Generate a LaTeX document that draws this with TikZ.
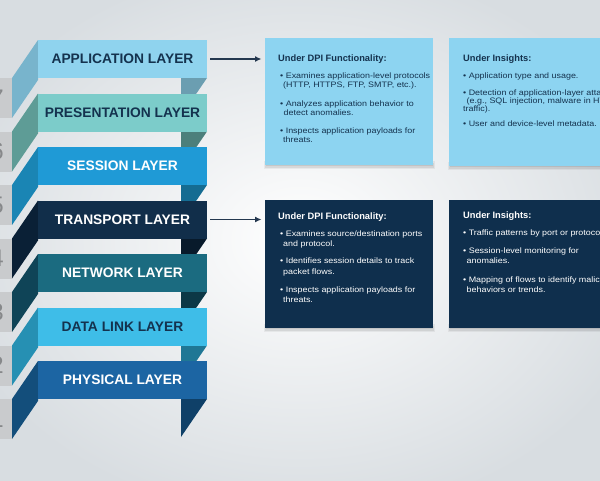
\documentclass[tikz,border=0pt]{standalone}
\usepackage{fontspec}
\setmainfont{Liberation Sans}
\newfontfamily\bodyfont[FakeStretch=1.13]{Liberation Sans}
\usetikzlibrary{arrows.meta,calc}

% palette
\definecolor{bgout}{HTML}{D8DDE1}
\definecolor{navy}{HTML}{14324E}
\definecolor{tabgrey}{HTML}{C9CBCD}
\definecolor{digitgrey}{HTML}{86888A}
\definecolor{boxL}{HTML}{8DD4F1}
\definecolor{boxD}{HTML}{0F2F4D}
\definecolor{conncol}{HTML}{24384F}
% layer colours: F = front, S = side, B = back fold
\definecolor{appF}{HTML}{8FD3EE}\definecolor{appS}{HTML}{78B4CC}\definecolor{appB}{HTML}{6B9EB1}
\definecolor{preF}{HTML}{7CCCCA}\definecolor{preS}{HTML}{5E9C96}\definecolor{preB}{HTML}{4C7F7B}
\definecolor{sesF}{HTML}{1F9AD6}\definecolor{sesS}{HTML}{1A85B4}\definecolor{sesB}{HTML}{156C92}
\definecolor{traF}{HTML}{112E4A}\definecolor{traS}{HTML}{0A2036}\definecolor{traB}{HTML}{081A2B}
\definecolor{netF}{HTML}{1B6B80}\definecolor{netS}{HTML}{0F4457}\definecolor{netB}{HTML}{0C3846}
\definecolor{datF}{HTML}{3EBDE8}\definecolor{datS}{HTML}{2690B3}\definecolor{datB}{HTML}{1F7795}
\definecolor{phyF}{HTML}{1C65A3}\definecolor{phyS}{HTML}{134E7B}\definecolor{phyB}{HTML}{0F4068}

\tikzset{
  layer/.style={minimum width=169pt, minimum height=38pt, inner sep=0pt,
    font=\fontsize{13.8}{14}\selectfont\bfseries},
  digit/.style={anchor=east, inner sep=0pt, text=digitgrey,
    font=\fontsize{24}{26}\selectfont},
  infobox/.style={anchor=north west, inner sep=0pt},
  lightbox/.style={infobox, fill=boxL},
  darkbox/.style={infobox, fill=boxD},
  softshade/.style={fill=black, opacity=#1},
  ttl/.style={anchor=west, inner sep=0pt, text height=6.8pt, text depth=1.9pt,
    font=\fontsize{9.3}{10}\selectfont\bfseries},
  btxt/.style={anchor=west, inner sep=0pt, text height=5.8pt, text depth=1.6pt,
    font=\bodyfont\fontsize{7.9}{9}\selectfont},
  conn/.style={draw=conncol, line width=1.4pt, -{Latex[length=6.5pt,width=6pt]}},
}

\begin{document}
\begin{tikzpicture}[x=1pt, y=-1pt]
  \useasboundingbox (0,0) rectangle (600,480);
  \shade[inner color=white, outer color=bgout] (-60,-40) rectangle (660,520);

  % the seven stacked ribbon layers, top to bottom
  \foreach \nm/\lbl/\k/\tc [count=\i from 0] in {
      app/APPLICATION LAYER/7/navy,
      pre/PRESENTATION LAYER/6/navy,
      ses/SESSION LAYER/5/white,
      tra/TRANSPORT LAYER/4/white,
      net/NETWORK LAYER/3/white,
      dat/DATA LINK LAYER/2/navy,
      phy/PHYSICAL LAYER/1/white}{
    \pgfmathsetmacro\yy{40+53.5*\i}
    % numbered tab behind the ribbon
    \fill[tabgrey] (-5,\yy+38) rectangle (12,\yy+78);
    \node[digit] (num\k) at (4,\yy+58) {\k};
    % slanted side face
    \fill[\nm S] (38,\yy) -- ++(0,40) -- ++(-26,38) -- ++(0,-40) -- cycle;
    % fold behind the right end
    \fill[\nm B] (207,\yy+38) -- ++(-26,0) -- ++(0,38) -- cycle;
    % front face with label
    \node[layer, fill=\nm F, text=\tc] (\nm) at (122.5,\yy+19) {\lbl};
  }

  % soft shadows under the information boxes
  \foreach \x/\w/\y in {265/168/165, 449/171/166, 265/168/328, 449/171/328}{
    \fill[softshade=.05] (\x-1,\y-4) rectangle (\x+\w+1.5,\y+4);
    \fill[softshade=.07] (\x,\y-2) rectangle (\x+\w+0.8,\y+2.5);
    \fill[softshade=.08] (\x+0.5,\y) rectangle (\x+\w,\y+1.2);
  }

  % information boxes
  \node[lightbox, minimum width=168pt, minimum height=127pt] (dpi1) at (265,38) {};
  \node[lightbox, minimum width=171pt, minimum height=128pt] (ins1) at (449,38) {};
  \node[darkbox, minimum width=168pt, minimum height=128pt] (dpi2) at (265,200) {};
  \node[darkbox, minimum width=171pt, minimum height=128pt] (ins2) at (449,200) {};

  % connectors
  \coordinate (e1) at (app.east -| dpi1.west);
  \coordinate (e2) at (tra.east -| dpi2.west);
  \draw[conn] ([xshift=3pt]app.east) -- ([xshift=-3.5pt]e1);
  \draw[conn] ([xshift=3pt]tra.east) -- ([xshift=-3.5pt]e2);

  % application layer: DPI functionality
  \begin{scope}[every node/.append style={text=navy}]
    \node[ttl]  (a0) at (278,59.3)  {Under DPI Functionality:};
    \node[btxt] (a1) at (280,76.7)  {• Examines application-level protocols};
    \node[btxt] (a2) at (283,85.2)  {(HTTP, HTTPS, FTP, SMTP, etc.).};
    \node[btxt] (a3) at (280,104)   {• Analyzes application behavior to};
    \node[btxt] (a4) at (283.5,113.3) {detect anomalies.};
    \node[btxt] (a5) at (280,131.7) {• Inspects application payloads for};
    \node[btxt] (a6) at (283,140.7) {threats.};
    % application layer: insights
    \node[ttl]  (b0) at (463,59.3)  {Under Insights:};
    \node[btxt] (b1) at (463,76.7)  {• Application type and usage.};
    \node[btxt] (b2) at (463,93)    {• Detection of application-layer attacks};
    \node[btxt] (b3) at (466.5,101.5) {(e.g., SQL injection, malware in HTTP};
    \node[btxt] (b4) at (463,109.5) {traffic).};
    \node[btxt] (b5) at (463,124)   {• User and device-level metadata.};
  \end{scope}

  % transport layer: DPI functionality
  \begin{scope}[every node/.append style={text=white}]
    \node[ttl]  (c0) at (278,216.7) {Under DPI Functionality:};
    \node[btxt] (c1) at (280,234)   {• Examines source/destination ports};
    \node[btxt] (c2) at (283,244.3) {and protocol.};
    \node[btxt] (c3) at (280,261.7) {• Identifies session details to track};
    \node[btxt] (c4) at (283,272.3) {packet flows.};
    \node[btxt] (c5) at (280,290)   {• Inspects application payloads for};
    \node[btxt] (c6) at (283,300)   {threats.};
    % transport layer: insights
    \node[ttl]  (d0) at (463,215.7) {Under Insights:};
    \node[btxt] (d1) at (463,233.3) {• Traffic patterns by port or protocol.};
    \node[btxt] (d2) at (463,251)   {• Session-level monitoring for};
    \node[btxt] (d3) at (466.5,261.7) {anomalies.};
    \node[btxt] (d4) at (463,280)   {• Mapping of flows to identify malicious};
    \node[btxt] (d5) at (466.5,290) {behaviors or trends.};
  \end{scope}
\end{tikzpicture}
\end{document}
